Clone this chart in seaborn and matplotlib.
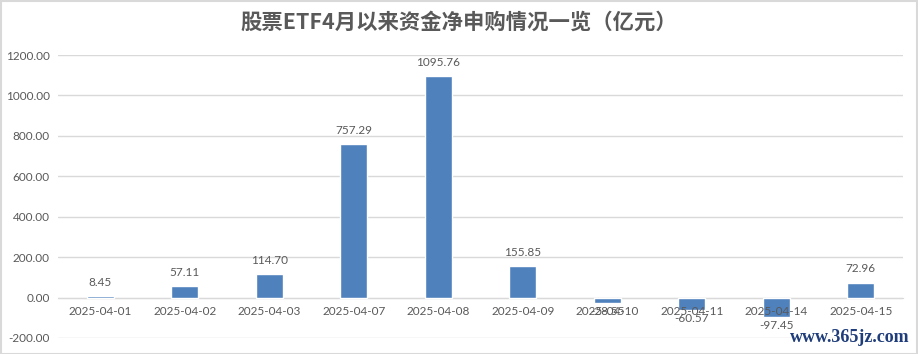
import numpy as np
import pandas as pd
import seaborn as sns
import matplotlib.pyplot as plt
from matplotlib.patches import Rectangle

sns.set_style("white")
plt.rcParams["font.family"] = ["Lato", "Noto Sans CJK SC", "DejaVu Sans"]

# data
dates = [
    "2025-04-01", "2025-04-02", "2025-04-03", "2025-04-07", "2025-04-08",
    "2025-04-09", "2025-04-10", "2025-04-11", "2025-04-14", "2025-04-15",
]
values = [8.45, 57.11, 114.70, 757.29, 1095.76, 155.85, -28.55, -60.57, -97.45, 72.96]
yticks = [-200, 0, 200, 400, 600, 800, 1000, 1200]
title = "股票ETF4月以来资金净申购情况一览（亿元）"

df = pd.DataFrame({"date": dates, "value": values})

bar_color = "#4f81bd"
text_color = "#595959"
grid_color = "#d9d9d9"

fig = plt.figure(figsize=(9.18, 3.54), dpi=100)
ax = fig.add_axes([58 / 918, 16 / 354, 845 / 918, 283 / 354])

sns.barplot(data=df, x="date", y="value", color=bar_color, width=0.32,
            saturation=1, ax=ax, zorder=3)

ax.set_ylim(-200, 1200)
ax.set_xlim(-0.5, len(dates) - 0.5)
ax.set_yticks(yticks)
ax.set_yticklabels([f"{v:.2f}" for v in yticks], fontsize=8.5, color=text_color)
ax.tick_params(axis="both", length=0)
ax.tick_params(axis="y", pad=6)
ax.tick_params(axis="x", pad=6, labelsize=8.5, labelcolor=text_color)
ax.yaxis.grid(True, color=grid_color, linewidth=1, zorder=0)
ax.set_xlabel("")
ax.set_ylabel("")

for side in ["top", "right", "left"]:
    ax.spines[side].set_visible(False)
ax.spines["bottom"].set_position(("data", 0))
ax.spines["bottom"].set_color(grid_color)
ax.spines["bottom"].set_zorder(2)
# date labels sit on top of the negative bars, as in the original
ax.xaxis.set_zorder(4)

# value labels
for i, v in enumerate(values):
    if v >= 0:
        ax.annotate(f"{v:.2f}", (i, v), xytext=(0, 6), textcoords="offset points",
                    ha="center", va="bottom", fontsize=8.5, color=text_color, zorder=6)
    else:
        ax.annotate(f"{v:.2f}", (i, v), xytext=(0, -2), textcoords="offset points",
                    ha="center", va="top", fontsize=8.5, color=text_color, zorder=6)

fig.text(0.5, 1 - 22 / 354, title, ha="center", va="center", fontsize=15.4,
         fontweight="bold", color=text_color, family=["Noto Sans CJK SC", "DejaVu Sans"])

fig.text(1 - 8 / 918, 1 - 338 / 354, "www.365jz.com", ha="right", va="center",
         fontsize=13, fontweight="bold", color="#1f3d7a", family="Liberation Serif")

fig.patches.append(Rectangle((0.5 / 918, 0.5 / 354), 1 - 1.5 / 918, 1 - 1.5 / 354,
                             transform=fig.transFigure, fill=False,
                             edgecolor="#d9d9d9", linewidth=1.5))

fig.savefig("out.png", dpi=100)
